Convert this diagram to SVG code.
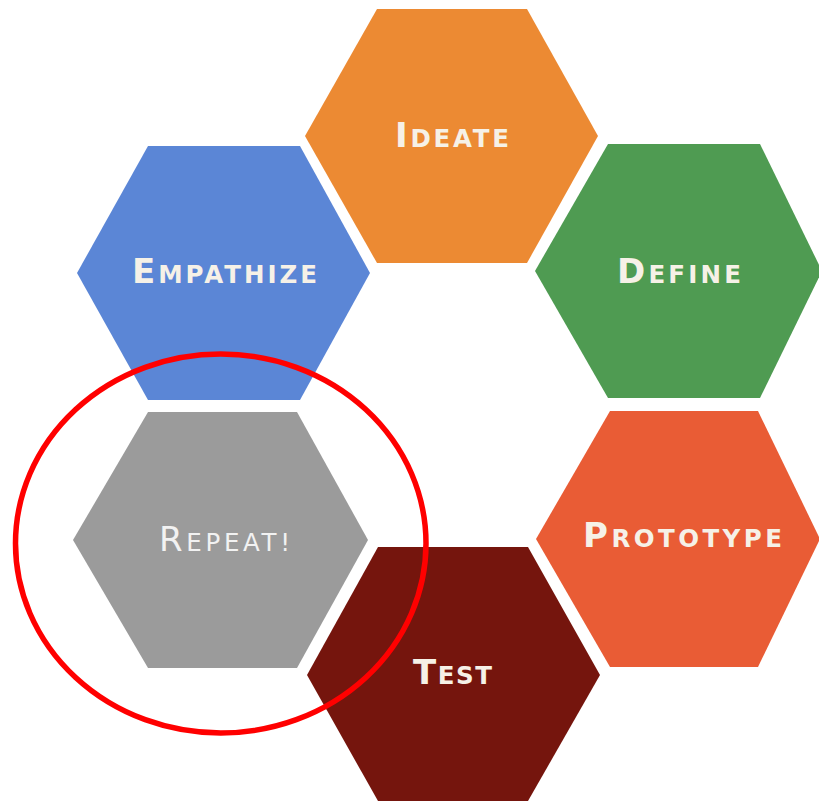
<svg xmlns="http://www.w3.org/2000/svg" width="819" height="803" viewBox="0 0 819 803">
<style>
.lbl{font-family:"DejaVu Sans","Liberation Sans",sans-serif;font-weight:bold;fill:#f6f1e7;}
.lt{font-weight:normal;fill:#f2f2f2;}
.big{font-size:34px;}
.sm{font-size:24.5px;}
</style>
<rect width="819" height="803" fill="#ffffff"/>
<g id="ideate">
<polygon points="377,9 527,9 598,136 527,263 377,263 305,136" fill="#ec8a33"/>
<text class="lbl" x="395" y="147" textLength="114" lengthAdjust="spacing"><tspan class="big">I</tspan><tspan class="sm">DEATE</tspan></text>
</g>
<g id="empathize">
<polygon points="148,146 300,146 370,273 300,400 148,400 77,273" fill="#5b86d6"/>
<text class="lbl" x="132" y="283" textLength="185" lengthAdjust="spacing"><tspan class="big">E</tspan><tspan class="sm">MPATHIZE</tspan></text>
</g>
<g id="define">
<polygon points="608,144 760,144 822,271 760,398 608,398 535,271" fill="#4f9b52"/>
<text class="lbl" x="617" y="283" textLength="124" lengthAdjust="spacing"><tspan class="big">D</tspan><tspan class="sm">EFINE</tspan></text>
</g>
<g id="repeat">
<polygon points="148,412 297,412 368,540 297,668 148,668 73,540" fill="#9b9b9b"/>
<text class="lbl lt" x="159" y="551" textLength="131" lengthAdjust="spacing"><tspan class="big">R</tspan><tspan class="sm">EPEAT!</tspan></text>
</g>
<g id="prototype">
<polygon points="610,411 758,411 820,539 758,667 610,667 536,539" fill="#e95c35"/>
<text class="lbl" x="583" y="547" textLength="199" lengthAdjust="spacing"><tspan class="big">P</tspan><tspan class="sm">ROTOTYPE</tspan></text>
</g>
<g id="test">
<polygon points="378,547 528,547 600,675 528,801 378,801 307,675" fill="#75150d"/>
<text class="lbl" x="413" y="684" textLength="79" lengthAdjust="spacing"><tspan class="big">T</tspan><tspan class="sm">EST</tspan></text>
</g>
<g id="connectors"></g>
<g id="highlight">
<ellipse cx="220.75" cy="543.5" rx="205.25" ry="189.5" fill="none" stroke="#ff0000" stroke-width="5.5"/>
</g>
</svg>
